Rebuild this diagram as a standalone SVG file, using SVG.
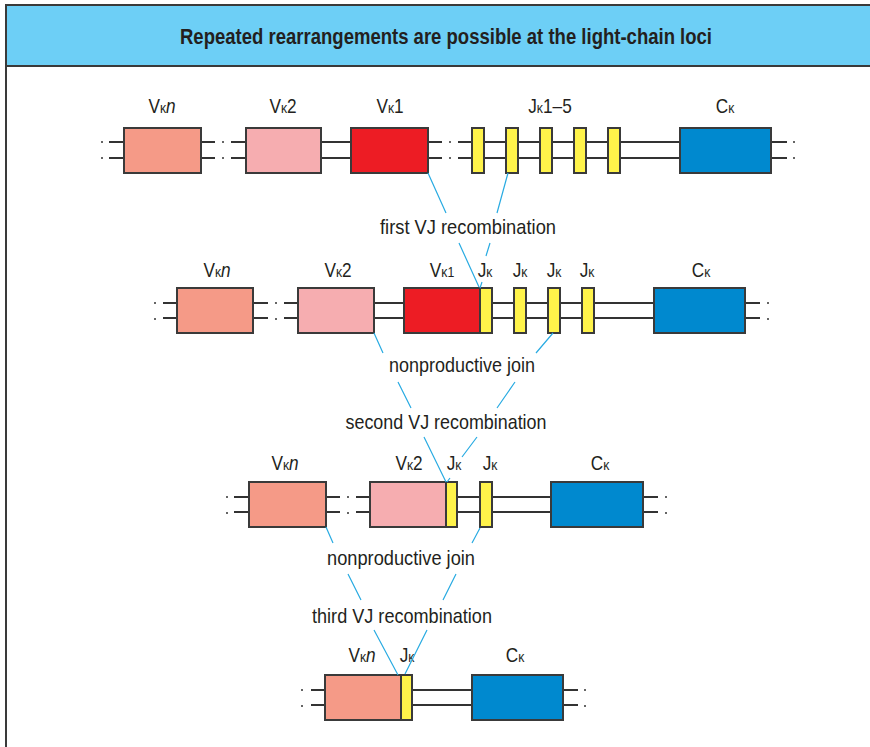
<svg xmlns="http://www.w3.org/2000/svg" width="870" height="747" viewBox="0 0 870 747">
<style>
text{font-family:"Liberation Sans Narrow","Liberation Sans",Arial,sans-serif;fill:#231f20;}
.lbl{font-size:21px;text-anchor:middle;}
.k{font-size:15px;}
.cap{font-size:21px;text-anchor:middle;}
.title{font-size:22px;font-weight:bold;text-anchor:middle;}
.box{stroke:#3a3a3a;stroke-width:2;}
.vn{fill:#f59a87;}
.v2{fill:#f6adb0;}
.v1{fill:#ed1c24;}
.j{fill:#fff34a;}
.c{fill:#0089cf;}
.dna{stroke:#333;stroke-width:2;fill:none;}
.dot{fill:#666;}
.blue{stroke:#29abe2;stroke-width:1.2;fill:none;}
</style>
<defs>
<g id="dots"><rect x="-1" y="-1" width="2" height="2" class="dot"/><rect x="-1" y="15" width="2" height="2" class="dot"/></g>
</defs>
<rect x="6" y="5" width="880" height="760" fill="#fff" stroke="#3a3a3a" stroke-width="2"/>
<rect x="6" y="5" width="880" height="61" fill="#6dcff6" stroke="#3a3a3a" stroke-width="2"/>
<text class="title" x="446" y="44" textLength="532" lengthAdjust="spacingAndGlyphs">Repeated rearrangements are possible at the light-chain loci</text>

<g id="row1">
<path class="dna" d="M109 142H124M109 158H124M201 142H215M201 158H215M231 142H246M231 158H246M321 142H351M321 158H351M428 142H442M428 158H442M458 142H680M458 158H680M771 142H787M771 158H787"/>
<use href="#dots" x="102" y="142"/><use href="#dots" x="223" y="142"/><use href="#dots" x="450" y="142"/><use href="#dots" x="794" y="142"/>
<g id="r1-vn"><rect class="box vn" x="124" y="128" width="77" height="45"/><text class="lbl" transform="translate(162 113) scale(0.82 1)">V<tspan class="k">κ</tspan><tspan font-style="italic">n</tspan></text></g>
<g id="r1-v2"><rect class="box v2" x="246" y="128" width="75" height="45"/><text class="lbl" transform="translate(283 113) scale(0.82 1)">V<tspan class="k">κ</tspan>2</text></g>
<g id="r1-v1"><rect class="box v1" x="351" y="128" width="77" height="45"/><text class="lbl" transform="translate(390 113) scale(0.82 1)">V<tspan class="k">κ</tspan>1</text></g>
<g id="r1-j"><rect class="box j" x="472" y="128" width="12" height="45"/><rect class="box j" x="506" y="128" width="12" height="45"/><rect class="box j" x="540" y="128" width="12" height="45"/><rect class="box j" x="574" y="128" width="12" height="45"/><rect class="box j" x="608" y="128" width="12" height="45"/><text class="lbl" transform="translate(550 113) scale(0.82 1)">J<tspan class="k">κ</tspan>1–5</text></g>
<g id="r1-c"><rect class="box c" x="680" y="128" width="91" height="45"/><text class="lbl" transform="translate(725 113) scale(0.82 1)">C<tspan class="k">κ</tspan></text></g>
</g>

<g id="row2">
<path class="dna" d="M163 303H177M163 318H177M253 303H268M253 318H268M284 303H298M284 318H298M374 303H404M374 318H404M492 303H654M492 318H654M745 303H760M745 318H760"/>
<use href="#dots" x="155" y="303"/><use href="#dots" x="276" y="303"/><use href="#dots" x="768" y="303"/>
<g id="r2-vn"><rect class="box vn" x="177" y="288" width="76" height="45"/><text class="lbl" transform="translate(217 277) scale(0.82 1)">V<tspan class="k">κ</tspan><tspan font-style="italic">n</tspan></text></g>
<g id="r2-v2"><rect class="box v2" x="298" y="288" width="76" height="45"/><text class="lbl" transform="translate(338 277) scale(0.82 1)">V<tspan class="k">κ</tspan>2</text></g>
<g id="r2-v1"><rect class="box v1" x="404" y="288" width="76" height="45"/><text class="lbl" transform="translate(442 277) scale(0.82 1)">V<tspan class="k">κ1</tspan></text></g>
<g id="r2-j"><rect class="box j" x="480" y="288" width="12" height="45"/><rect class="box j" x="514" y="288" width="12" height="45"/><rect class="box j" x="548" y="288" width="12" height="45"/><rect class="box j" x="582" y="288" width="12" height="45"/>
<text class="lbl" transform="translate(485 277) scale(0.82 1)">J<tspan class="k">κ</tspan></text><text class="lbl" transform="translate(520 277) scale(0.82 1)">J<tspan class="k">κ</tspan></text><text class="lbl" transform="translate(554 277) scale(0.82 1)">J<tspan class="k">κ</tspan></text><text class="lbl" transform="translate(587 277) scale(0.82 1)">J<tspan class="k">κ</tspan></text></g>
<g id="r2-c"><rect class="box c" x="654" y="288" width="91" height="45"/><text class="lbl" transform="translate(701 277) scale(0.82 1)">C<tspan class="k">κ</tspan></text></g>
</g>

<g id="row3">
<path class="dna" d="M234 497H249M234 512H249M326 497H340M326 512H340M356 497H370M356 512H370M457 497H480M457 512H480M492 497H551M492 512H551M643 497H658M643 512H658"/>
<use href="#dots" x="227" y="497"/><use href="#dots" x="348" y="497"/><use href="#dots" x="666" y="497"/>
<g id="r3-vn"><rect class="box vn" x="249" y="482" width="77" height="45"/><text class="lbl" transform="translate(285 470) scale(0.82 1)">V<tspan class="k">κ</tspan><tspan font-style="italic">n</tspan></text></g>
<g id="r3-v2"><rect class="box v2" x="370" y="482" width="76" height="45"/><text class="lbl" transform="translate(409 470) scale(0.82 1)">V<tspan class="k">κ</tspan>2</text></g>
<g id="r3-j"><rect class="box j" x="446" y="482" width="11" height="45"/><rect class="box j" x="480" y="482" width="12" height="45"/>
<text class="lbl" transform="translate(454 470) scale(0.82 1)">J<tspan class="k">κ</tspan></text><text class="lbl" transform="translate(490 470) scale(0.82 1)">J<tspan class="k">κ</tspan></text></g>
<g id="r3-c"><rect class="box c" x="551" y="482" width="92" height="45"/><text class="lbl" transform="translate(600 470) scale(0.82 1)">C<tspan class="k">κ</tspan></text></g>
</g>

<g id="row4">
<path class="dna" d="M311 690H325M311 705H325M412 690H472M412 705H472M563 690H578M563 705H578"/>
<use href="#dots" x="302" y="690"/><use href="#dots" x="585" y="690"/>
<g id="r4-vn"><rect class="box vn" x="325" y="675" width="76" height="45"/><text class="lbl" transform="translate(362 662) scale(0.82 1)">V<tspan class="k">κ</tspan><tspan font-style="italic">n</tspan></text></g>
<g id="r4-j"><rect class="box j" x="401" y="675" width="11" height="45"/><text class="lbl" transform="translate(407 662) scale(0.82 1)">J<tspan class="k">κ</tspan></text></g>
<g id="r4-c"><rect class="box c" x="472" y="675" width="91" height="45"/><text class="lbl" transform="translate(515 662) scale(0.82 1)">C<tspan class="k">κ</tspan></text></g>
</g>

<g id="connectors">
<path class="blue" d="M428 173L446 213M508 173L497 213M459 243L479 287M490 243L486 256M482 282L480 288"/>
<path class="blue" d="M374 333L383 353M553 333L536 353M398 382L411 408M515 382L497 408M424 437L446 482M477 437L462 457M450 478L447 482"/>
<path class="blue" d="M326 527L333 543M480 528L472 543M348 574L361 600M456 574L443 600M374 630L398 675M427 630L405 674"/>
</g>

<g id="step-labels">
<text class="cap" x="468" y="234" textLength="176" lengthAdjust="spacingAndGlyphs">first VJ recombination</text>
<text class="cap" x="462" y="372" textLength="146" lengthAdjust="spacingAndGlyphs">nonproductive join</text>
<text class="cap" x="446" y="429" textLength="201" lengthAdjust="spacingAndGlyphs">second VJ recombination</text>
<text class="cap" x="401" y="565" textLength="148" lengthAdjust="spacingAndGlyphs">nonproductive join</text>
<text class="cap" x="402" y="623" textLength="180" lengthAdjust="spacingAndGlyphs">third VJ recombination</text>
</g>
</svg>
